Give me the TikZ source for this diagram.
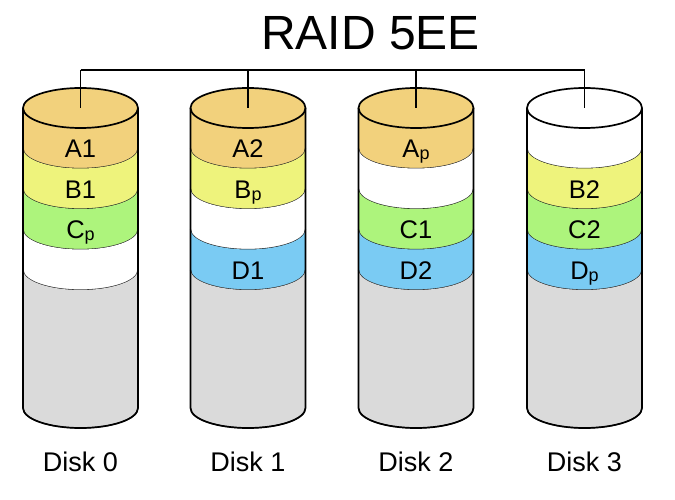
\documentclass[tikz,border=0pt]{standalone}
\usepackage{fontspec}
\setmainfont{Liberation Sans}
\usepackage{tikz}
\usepackage{xcolor}
\definecolor{stA}{HTML}{F2D17C}
\definecolor{stB}{HTML}{EEF37C}
\definecolor{stC}{HTML}{ADF47C}
\definecolor{stD}{HTML}{7ACBF3}
\definecolor{stFree}{HTML}{DADADA}

% one stripe of a disk, between two ellipse centres (top y, bottom y, colour)
\newcommand{\diskband}[3]{%
  \fill[#3] (-57.5,#1) -- (-57.5,#2)
    arc[start angle=180, end angle=360, x radius=57.5, y radius=20]
    -- (57.5,#1)
    arc[start angle=360, end angle=180, x radius=57.5, y radius=20] -- cycle;
  \draw[sep] (-57.5,#2) arc[start angle=180, end angle=360, x radius=57.5, y radius=20];}

% shell of a disk, top ellipse filled with colour #1
\newcommand{\diskshell}[1]{%
  \filldraw[fill=#1, shell] (0,0) ellipse[x radius=57.5, y radius=20];
  \draw[shell] (-57.5,0) -- (-57.5,-300)
    arc[start angle=180, end angle=360, x radius=57.5, y radius=20] -- (57.5,0);}

\begin{document}
\begin{tikzpicture}[x=1pt, y=1pt,
        sep/.style={line width=1.2pt, draw=black!85},
        shell/.style={line width=1.7pt, draw=black},
        bus/.style={line width=1.7pt},
        lab/.style={font=\fontsize{25.5}{25.5}\selectfont, text height=18pt,
                    text depth=0pt, inner sep=0pt},
        disk/.style={font=\fontsize{27}{27}\selectfont, inner sep=0pt},
        title/.style={font=\fontsize{48}{48}\selectfont, inner sep=0pt}
    ]
    \useasboundingbox (0,0) rectangle (675,-500);
    \newcommand{\pp}{{\fontsize{18}{18}\selectfont\raisebox{-2pt}{p}}}

    % Title and bus
    \node[title] (title) at (370.5,-33) {RAID 5EE};
    \coordinate (bus0) at (80.5,-70);
    \coordinate (bus1) at (248,-70);
    \coordinate (bus2) at (416,-70);
    \coordinate (bus3) at (584.5,-70);

    % ---- Disk 0 ----
    \begin{scope}[shift={(80.5,-108)}]
        \diskband{0}{-40.5}{stA}
        \diskband{-40.5}{-81}{stB}
        \diskband{-81}{-121.5}{stC}
        \diskband{-121.5}{-162}{white}
        \diskband{-162}{-300}{stFree}
        \diskshell{stA}
        \coordinate (top0) at (0,0);
    \end{scope}
    \node[lab] (a1) at (80.5,-148.5) {A1};
    \node[lab] (b1) at (80.5,-189)   {B1};
    \node[lab] (cp) at (80.5,-229.5) {C\pp};
    \node[disk] (disk0) at (80.5,-461.5) {Disk 0};

    % ---- Disk 1 ----
    \begin{scope}[shift={(248,-108)}]
        \diskband{0}{-40.5}{stA}
        \diskband{-40.5}{-81}{stB}
        \diskband{-81}{-121.5}{white}
        \diskband{-121.5}{-162}{stD}
        \diskband{-162}{-300}{stFree}
        \diskshell{stA}
        \coordinate (top1) at (0,0);
    \end{scope}
    \node[lab] (a2) at (248,-148.5) {A2};
    \node[lab] (bp) at (248,-189)   {B\pp};
    \node[lab] (d1) at (248,-270)   {D1};
    \node[disk] (disk1) at (248,-461.5) {Disk 1};

    % ---- Disk 2 ----
    \begin{scope}[shift={(416,-108)}]
        \diskband{0}{-40.5}{stA}
        \diskband{-40.5}{-81}{white}
        \diskband{-81}{-121.5}{stC}
        \diskband{-121.5}{-162}{stD}
        \diskband{-162}{-300}{stFree}
        \diskshell{stA}
        \coordinate (top2) at (0,0);
    \end{scope}
    \node[lab] (ap) at (416,-148.5) {A\pp};
    \node[lab] (c1) at (416,-229.5) {C1};
    \node[lab] (d2) at (416,-270)   {D2};
    \node[disk] (disk2) at (416,-461.5) {Disk 2};

    % ---- Disk 3 ----
    \begin{scope}[shift={(584.5,-108)}]
        \diskband{0}{-40.5}{white}
        \diskband{-40.5}{-81}{stB}
        \diskband{-81}{-121.5}{stC}
        \diskband{-121.5}{-162}{stD}
        \diskband{-162}{-300}{stFree}
        \diskshell{white}
        \coordinate (top3) at (0,0);
    \end{scope}
    \node[lab] (b2) at (584.5,-189)   {B2};
    \node[lab] (c2) at (584.5,-229.5) {C2};
    \node[lab] (dp) at (584.5,-270)   {D\pp};
    \node[disk] (disk3) at (584.5,-461.5) {Disk 3};

    % bus to the disks
    \draw[bus] (bus0) -- (bus3);
    \foreach \i in {0,...,3}
        \draw[bus] (bus\i) -- (top\i);
\end{tikzpicture}
\end{document}
